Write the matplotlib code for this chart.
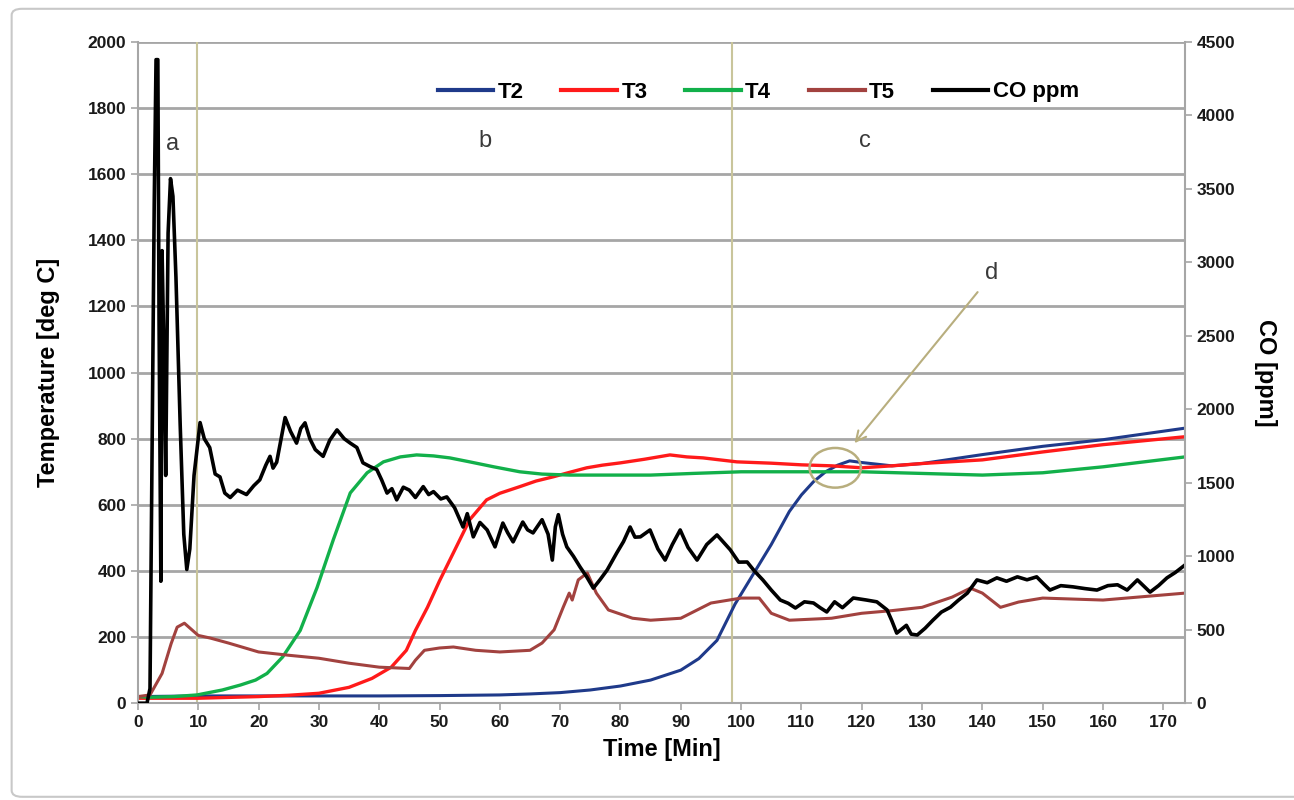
import matplotlib
matplotlib.use('Agg')
import matplotlib.pyplot as plt
from matplotlib.patches import Ellipse, FancyBboxPatch

plt.rcParams['font.family'] = ['Liberation Sans', 'DejaVu Sans']

# ---------------------------------------------------------------------------
# Data (time in minutes, temperature in deg C, CO in ppm)
# ---------------------------------------------------------------------------
t2_time = [0, 10, 20, 30, 40, 50, 60, 65, 70, 75, 80, 85, 90, 93, 96, 99, 102,
           105, 108, 110, 112, 114, 116, 118, 120, 125, 130, 140, 150, 160, 173.6]
t2_temp = [20, 22, 22, 22, 22, 23, 25, 28, 32, 40, 52, 70, 100, 135, 190, 300, 390,
           480, 580, 630, 670, 700, 720, 733, 728, 718, 725, 752, 777, 797, 832]

t3_time = [0, 5, 10, 20, 25, 30, 35, 38.8, 42, 44.5, 46, 48, 50, 52.3, 55, 57.8, 60,
           63.3, 66, 68.9, 71.5, 74.4, 77, 80, 84, 88.2, 91, 93.7, 96, 99.3, 105,
           110, 115, 120, 125, 130, 140, 150, 160, 173.6]
t3_temp = [15, 15, 15, 20, 24, 30, 48, 75, 109, 160, 220, 290, 370, 455, 555, 615, 635,
           655, 672, 685, 698, 712, 720, 727, 738, 751, 745, 742, 737, 730, 726,
           721, 718, 712, 718, 725, 736, 760, 782, 806]

t4_time = [0, 2, 6, 9.8, 14, 17, 19.5, 21.4, 24, 26.9, 29.7, 32.4, 35.2, 38, 40.7,
           43.5, 46.2, 49, 51.7, 55, 59, 63.3, 67, 71.6, 78, 85, 92, 100, 110, 120,
           130, 140, 150, 160, 173.6]
t4_temp = [20, 18, 20, 25, 40, 55, 70, 90, 140, 220, 350, 495, 636, 697, 730,
           745, 751, 748, 742, 730, 715, 700, 693, 690, 690, 690, 695, 700, 700, 700,
           695, 690, 697, 715, 745]

t5_time = [0, 2, 4, 5.5, 6.5, 7.7, 10, 12, 15, 20, 25, 30, 35, 40, 45, 46, 47.5, 50,
           52.3, 56, 60, 65, 67, 69, 70.5, 71.5, 72, 73, 74.5, 76, 78, 82, 85, 90,
           95, 100, 103, 105, 108, 115, 120, 125, 130, 135, 138, 140, 143, 146, 150,
           160, 173.6]
t5_temp = [20, 25, 90, 180, 230, 242, 205, 197, 182, 155, 145, 136, 121, 109, 105, 130, 160, 167,
           170, 160, 155, 160, 182, 222, 290, 333, 312, 373, 394, 333, 282, 257, 251, 257,
           303, 318, 318, 272, 251, 257, 272, 280, 290, 321, 348, 333, 290, 306, 318,
           312, 333]

co_time = [0, 1.5, 2.0, 2.3, 2.7, 3.0, 3.3, 3.5, 3.8, 4.0,
           4.3, 4.6, 5.0, 5.4, 5.8, 6.3, 7.0, 7.6, 8.1, 8.6,
           9.3, 10.3, 11.0, 11.9, 12.8, 13.6, 14.4, 15.3, 16.5, 18,
           19.2, 20.2, 21.2, 21.9, 22.4, 23, 24.4, 25.3, 26.3, 27.0,
           27.7, 28.5, 29.4, 30.7, 31.8, 33, 34.2, 35.2, 36.3, 37.3,
           38.5, 39.6, 40.4, 41.3, 42.1, 42.9, 44, 45, 46, 47.3,
           48.2, 49, 50.2, 51.2, 52.5, 53.9, 54.6, 55.6, 56.7, 57.9,
           59.2, 60.5, 61.3, 62.2, 63.8, 64.6, 65.5, 67, 68, 68.7,
           69.2, 69.7, 70.4, 71.1, 72.2, 73.3, 74.4, 75.5, 76.6, 77.8,
           79.4, 80.5, 81.6, 82.4, 83.3, 84.9, 86.2, 87.4, 88.6, 89.9,
           91.2, 92.7, 94.3, 96, 97.2, 98.2, 99.6, 101, 102.2, 103.6,
           105, 106.5, 107.8, 109, 110.5, 112, 113.1, 114.2, 115.5, 116.8,
           118.6, 120.8, 122.5, 124.2, 125, 125.8, 127.4, 128.2, 129.2, 130.5,
           131.8, 133.2, 134.7, 136, 137.5, 139.1, 140.8, 142.4, 144, 145.8,
           147.4, 149, 150.2, 151.2, 153, 155, 157, 159, 160.8, 162.4,
           164, 165.7, 167.8, 169.2, 170.6, 172, 173.6]
co_ppm = [0, 0, 100, 1500, 3400, 4380, 4380, 2600, 830, 3080,
          2400, 1550, 3200, 3570, 3450, 2900, 1900, 1150, 910, 1050,
          1550, 1910, 1800, 1740, 1560, 1540, 1430, 1400, 1450, 1420,
          1480, 1520, 1620, 1680, 1600, 1640, 1944, 1850, 1770, 1870,
          1908, 1800, 1726, 1680, 1790, 1860, 1800, 1770, 1740, 1636,
          1610, 1590, 1520, 1430, 1460, 1384, 1470, 1450, 1400, 1474,
          1420, 1440, 1390, 1404, 1330, 1199, 1290, 1132, 1230, 1179,
          1064, 1226, 1160, 1098, 1233, 1180, 1159, 1249, 1150, 974,
          1200, 1283, 1150, 1064, 1000, 927, 860, 783, 840, 907,
          1024, 1100, 1199, 1130, 1132, 1179, 1050, 974, 1080, 1179,
          1060, 974, 1080, 1145, 1090, 1044, 960, 961, 900, 839,
          770, 702, 680, 648, 690, 682, 650, 621, 690, 650,
          716, 702, 690, 635, 560, 477, 530, 470, 464, 510,
          565, 620, 653, 700, 749, 839, 820, 853, 830, 860,
          840, 860, 810, 770, 800, 792, 780, 770, 800, 806,
          770, 839, 756, 800, 853, 890, 941]

x_ticks = list(range(0, 171, 10))
temp_ticks = list(range(0, 2001, 200))
co_ticks = list(range(0, 4501, 500))
phase_lines = [9.8, 98.5]

# ---------------------------------------------------------------------------
fig = plt.figure(figsize=(12.94, 8.0), dpi=100)
ax = fig.add_axes([0.1066, 0.121, 0.8092, 0.8265])

# outer chart border
fig.patches.append(FancyBboxPatch((0.009, 0.004), 1.2, 0.985, boxstyle='round,pad=0,rounding_size=0.008',
                                  transform=fig.transFigure, fill=False,
                                  edgecolor='#C8C8C8', linewidth=1.5))

grid_color = '#A6A6A6'
ax.set_xlim(0, 173.6)
ax.set_ylim(0, 2000)
ax.set_yticks(temp_ticks)
ax.set_xticks(x_ticks)
ax.yaxis.grid(True, color=grid_color, linewidth=2.0)
ax.set_axisbelow(True)
for s in ['top', 'right']:
    ax.spines[s].set_visible(False)
for s in ['left', 'bottom']:
    ax.spines[s].set_color(grid_color)
    ax.spines[s].set_linewidth(1.5)
ax.tick_params(axis='both', colors=grid_color, labelcolor='#1A1A1A', length=5, width=1.2,
               labelsize=12.5)
for lbl in ax.get_xticklabels() + ax.get_yticklabels():
    lbl.set_fontweight('bold')

for x in phase_lines:
    ax.axvline(x, color='#C9C59B', linewidth=1.5, zorder=1)

h2, = ax.plot(t2_time, t2_temp, color='#1F3A8A', linewidth=2.2, label='T2')
h3, = ax.plot(t3_time, t3_temp, color='#FF1A1A', linewidth=2.4, label='T3')
h4, = ax.plot(t4_time, t4_temp, color='#12B04A', linewidth=2.4, label='T4')
h5, = ax.plot(t5_time, t5_temp, color='#A2423F', linewidth=2.2, label='T5')

ax.set_xlabel('Time [Min]', fontsize=17, fontweight='bold', labelpad=6)
ax.set_ylabel('Temperature [deg C]', fontsize=17, fontweight='bold', labelpad=20)

ax2 = ax.twinx()
ax2.set_ylim(0, 4500)
ax2.set_yticks(co_ticks)
for s in ['top', 'left', 'bottom']:
    ax2.spines[s].set_visible(False)
ax2.spines['right'].set_color(grid_color)
ax2.spines['right'].set_linewidth(1.5)
ax2.tick_params(axis='y', colors=grid_color, labelcolor='#1A1A1A', length=5, width=1.2,
                labelsize=12.5)
for lbl in ax2.get_yticklabels():
    lbl.set_fontweight('bold')
hc, = ax2.plot(co_time, co_ppm, color='black', linewidth=2.6, label='CO ppm')
ax2.set_ylabel('CO [ppm]', fontsize=17, fontweight='bold', rotation=270, labelpad=30)

# annotations
ann = dict(fontsize=17, color='#3A3A3A')
ax.text(5.8, 1690, 'a', ha='center', va='center', **ann)
ax.text(57.5, 1700, 'b', ha='center', va='center', **ann)
ax.text(120.5, 1700, 'c', ha='center', va='center', **ann)
ax.text(141.5, 1300, 'd', ha='center', va='center', **ann)
ax.add_patch(Ellipse((115.6, 712), 8.5, 120, fill=False, edgecolor='#B8AE7E', linewidth=1.8, zorder=5))
ax.annotate('', xy=(118.5, 780), xytext=(139.5, 1250),
            arrowprops=dict(arrowstyle='->', color='#B8AE7E', lw=1.5, mutation_scale=18))

leg = ax2.legend(handles=[h2, h3, h4, h5, hc], loc='center', ncol=5, frameon=False,
                 bbox_to_anchor=(0.586, 0.885), bbox_transform=fig.transFigure,
                 handlelength=2.5, handletextpad=0.2, columnspacing=1.7,
                 prop={'size': 16, 'weight': 'bold'})
for line in leg.get_lines():
    line.set_linewidth(3.0)

fig.savefig('out.png', dpi=100)
plt.close(fig)
